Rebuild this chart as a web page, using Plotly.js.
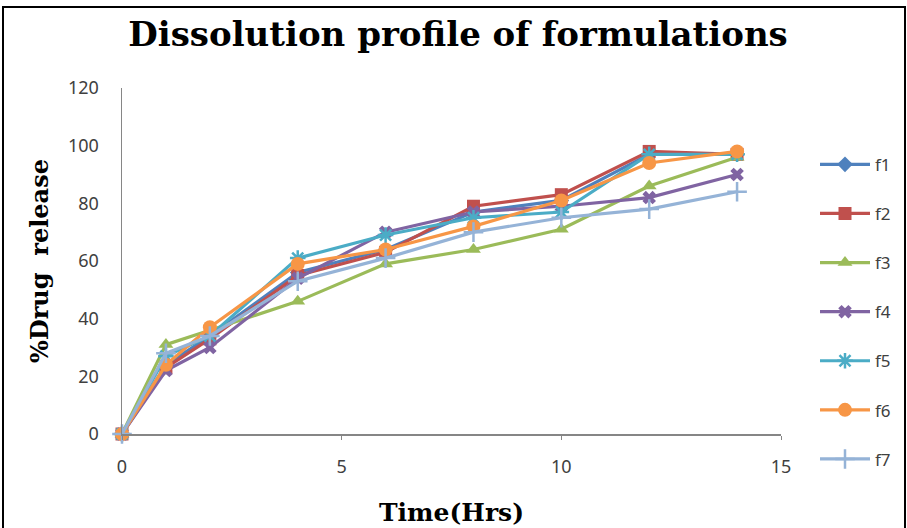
<!DOCTYPE html>
<html>
<head>
<meta charset="utf-8">
<script src="https://cdn.plot.ly/plotly-3.0.1.min.js"></script>
<style>
  html, body { margin: 0; padding: 0; background: #ffffff; }
  #chart { width: 907px; height: 528px; }
  #frame { position: absolute; left: 2px; top: 6px; width: 900px; height: 540px; border: 2px solid #000; pointer-events: none; }
</style>
</head>
<body>
<div id="chart"></div>
<div id="frame"></div>
<script>
const timeHrs = [0, 1, 2, 4, 6, 8, 10, 12, 14];
const seriesNames = ["f1", "f2", "f3", "f4", "f5", "f6", "f7"];
const f1 = [0, 24, 34, 56, 64, 77, 81, 97, 97];
const f2 = [0, 23, 33, 55, 63, 79, 83, 98, 97];
const f3 = [0, 31, 36, 46, 59, 64, 71, 86, 96];
const f4 = [0, 22, 30, 54, 70, 77, 79, 82, 90];
const f5 = [0, 27, 34, 61, 69, 75, 77, 97, 97];
const f6 = [0, 24, 37, 59, 64, 72, 81, 94, 98];
const f7 = [0, 28, 34, 53, 61, 70, 75, 78, 84];
const xTickVals = [0, 5, 10, 15];
const yTickVals = [0, 20, 40, 60, 80, 100, 120];

const values = [f1, f2, f3, f4, f5, f6, f7];
const colors = ["#4F81BD", "#C0504D", "#9BBB59", "#8064A2", "#4BACC6", "#F79646", "#95B3D7"];
const symbols = ["diamond", "square", "triangle-up", "x", "asterisk-open", "circle", "cross-thin-open"];
const sizes = [12, 13, 13, 12, 13, 14, 14];

const traces = values.map((v, i) => ({
  x: timeHrs,
  y: v,
  name: seriesNames[i],
  legendgroup: seriesNames[i],
  type: "scatter",
  mode: "lines+markers",
  cliponaxis: false,
  line: { color: colors[i], width: 3.2 },
  marker: {
    symbol: symbols[i],
    size: sizes[i],
    color: colors[i],
    line: { color: colors[i], width: (symbols[i].indexOf("open") >= 0) ? 2.5 : 0 }
  }
}));

const layout = {
  width: 907,
  height: 528,
  margin: { l: 122, r: 125, t: 88, b: 94 },
  paper_bgcolor: "#ffffff",
  plot_bgcolor: "#ffffff",
  showlegend: true,
  title: {
    text: "<b>Dissolution profile of formulations</b>",
    font: { family: "DejaVu Serif", size: 34, color: "#000000" },
    x: 0.505, xanchor: "center",
    y: 0.935, yanchor: "middle"
  },
  xaxis: {
    range: [0, 15],
    tickvals: xTickVals,
    ticktext: xTickVals.map(String),
    showgrid: false,
    zeroline: false,
    showline: true,
    linecolor: "#868686",
    linewidth: 1.5,
    ticks: "outside",
    ticklen: 4,
    tickcolor: "#868686",
    ticklabelstandoff: 12,
    tickfont: { family: "Noto Sans", size: 18, color: "#404040" },
    title: {
      text: "<b>Time(Hrs)</b>",
      font: { family: "DejaVu Serif", size: 25, color: "#000000" },
      standoff: 26
    }
  },
  yaxis: {
    range: [0, 120],
    tickvals: yTickVals,
    ticktext: yTickVals.map(String),
    showgrid: false,
    zeroline: false,
    showline: true,
    linecolor: "#868686",
    linewidth: 1.5,
    ticks: "",
    ticklabelstandoff: 18,
    tickfont: { family: "Noto Sans", size: 18, color: "#404040" },
    title: {
      text: "<b>%Drug  release</b>",
      font: { family: "DejaVu Serif", size: 24, color: "#000000" },
      standoff: 12
    }
  },
  legend: {
    x: 1.05, xanchor: "left",
    y: 0.83, yanchor: "top",
    traceorder: "grouped",
    tracegroupgap: 24,
    itemwidth: 50,
    font: { family: "Noto Sans", size: 17, color: "#404040" },
    bgcolor: "rgba(0,0,0,0)"
  }
};

Plotly.newPlot("chart", traces, layout, { displayModeBar: false, staticPlot: true });
</script>
</body>
</html>
